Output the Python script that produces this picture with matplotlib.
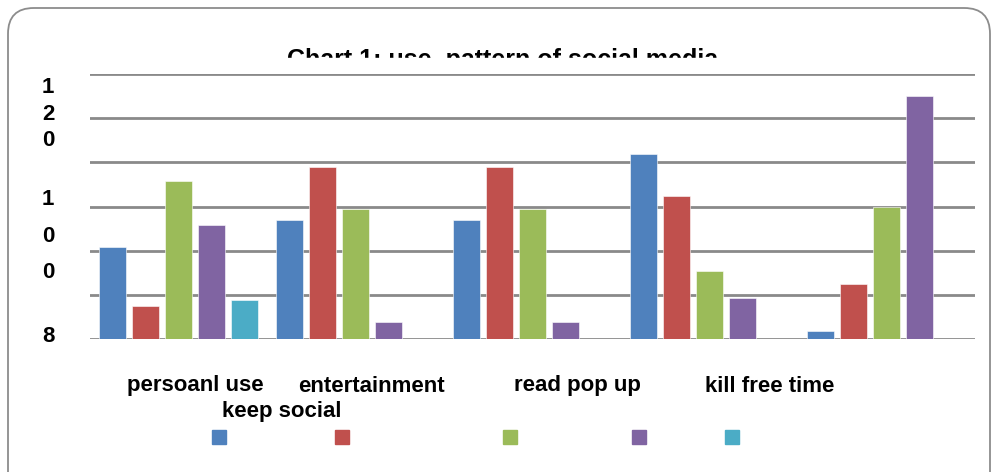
import numpy as np
import matplotlib.pyplot as plt
from matplotlib.patches import FancyBboxPatch, Rectangle

# categories as they appear under the axis (Excel staggered them)
categories = ['persoanl use', 'keep social', 'entertainment', 'read pop up', 'kill free time']
title = 'Chart 1: use  pattern of social media'

# five series, one value per group (axis 0..120)
blue = [41.7, 53.9, 53.9, 83.8, 3.8]
red = [14.9, 77.9, 77.9, 64.8, 24.9]
green = [71.7, 58.9, 58.9, 30.8, 59.8]
purple = [51.8, 7.7, 7.7, 18.7, 110.0]
cyan = [17.7, 0, 0, 0, 0]

series = [blue, red, green, purple, cyan]
colors = ['#4F81BD', '#C0504D', '#9BBB59', '#8064A2', '#4BACC6']

W, H = 991, 472
fig = plt.figure(figsize=(W / 100, H / 100), dpi=100)
plt.rcParams['font.family'] = ['Liberation Sans', 'DejaVu Sans']

# rounded chart frame, running off the bottom edge
frame = FancyBboxPatch((8 / W, -0.1), (982 / W), (H - 8) / H + 0.1,
                       boxstyle='round,pad=0,rounding_size=0.026',
                       transform=fig.transFigure, fill=False,
                       edgecolor='#8c8c8c', linewidth=1.3, mutation_aspect=W / H)
fig.patches.append(frame)

ax = fig.add_axes([90 / W, (H - 339) / H, (975 - 90) / W, (339 - 74) / H])
x = np.arange(len(blue))
step = 0.186
width = 0.153
for j, (vals, c) in enumerate(zip(series, colors)):
    ax.bar(x + (j - 2) * step, vals, width, color=c, zorder=3,
           edgecolor='white', linewidth=0.4)

ax.set_xlim(-0.5, 4.5)
ax.set_ylim(0, 120)
ax.set_yticks(np.arange(0, 121, 20))
ax.grid(axis='y', color='#8a8a8a', linewidth=2, zorder=1)
ax.tick_params(left=False, bottom=False, labelleft=False, labelbottom=False)
for s in ax.spines.values():
    s.set_visible(False)

# broken, wrapped y labels like in the original
fig.text(48 / W, 1 - 114 / H, '1\n2\n0', ha='center', va='center', fontsize=16,
         fontweight='bold', linespacing=1.32)
fig.text(48 / W, 1 - 236 / H, '1\n0\n0', ha='center', va='center', fontsize=16,
         fontweight='bold', linespacing=1.98)
fig.text(48 / W, 1 - 337 / H, '8', ha='center', va='center', fontsize=16,
         fontweight='bold')

# title, cut off at the bottom
fig.text(503 / W, 1 - 60 / H, title, ha='center', va='center', fontsize=18,
         fontweight='bold')
fig.patches.append(Rectangle((150 / W, 1 - 72 / H), 700 / W, 14 / H,
                             transform=fig.transFigure, color='white', zorder=10))

# category labels
label_pos = [(195, 386), (282, 412), (371, 386), (577, 386), (770, 386)]
for name, (px, py) in zip(categories, label_pos):
    fig.text(px / W, 1 - py / H, name, ha='center', va='center', fontsize=16,
             fontweight='bold')

# legend squares without text
legend_x = [212, 335, 503, 632, 725]
for lx, c in zip(legend_x, colors):
    fig.patches.append(Rectangle((lx / W, 1 - 444 / H), 14 / W, 14 / H,
                                 transform=fig.transFigure, color=c))

fig.savefig('out.png', dpi=100)
